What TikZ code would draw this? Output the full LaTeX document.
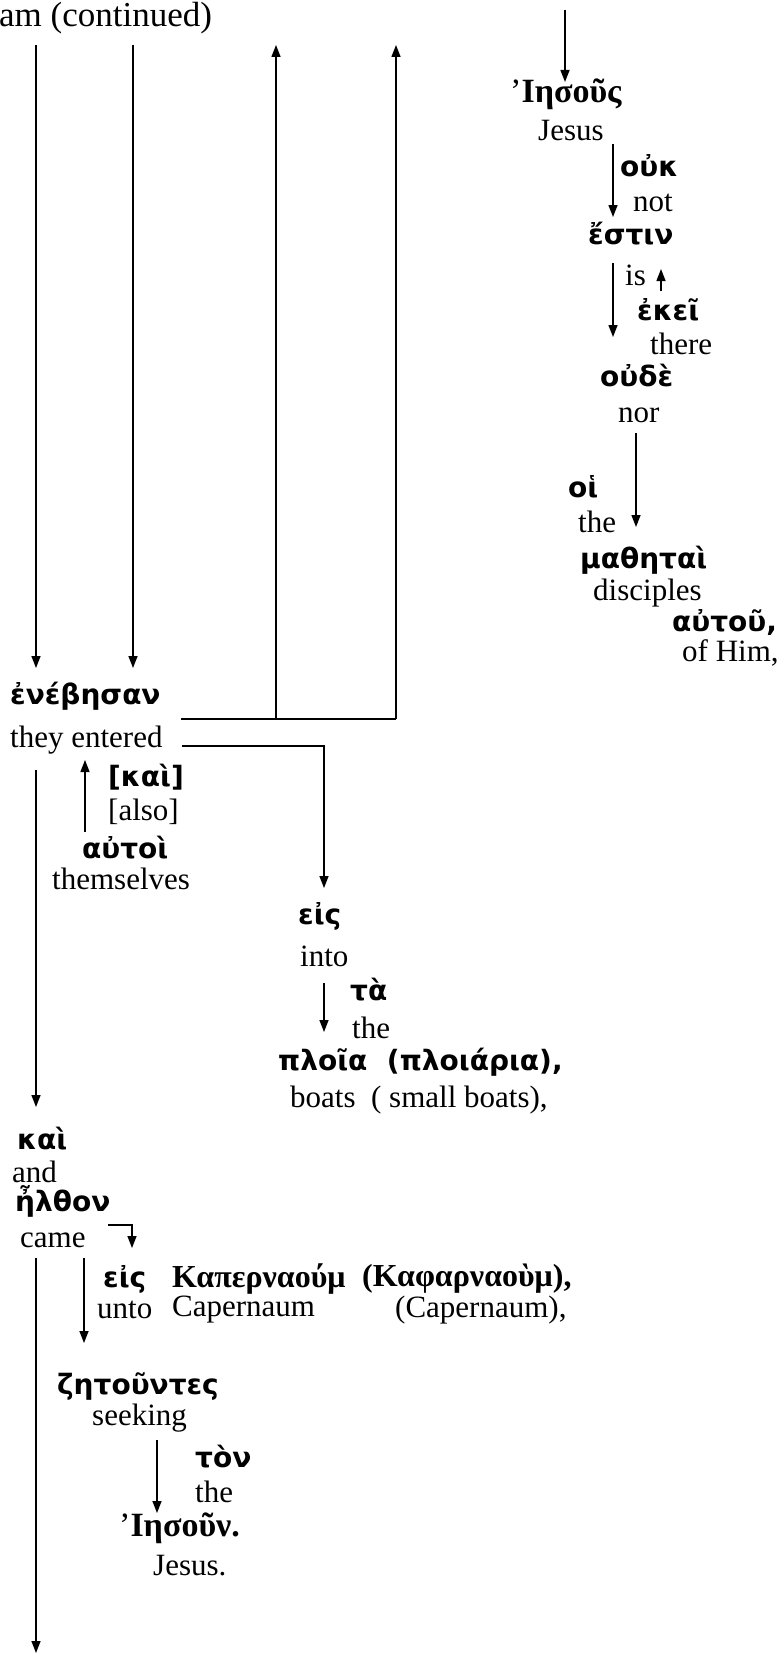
\documentclass[tikz,border=0pt]{standalone}
\usepackage{fontspec}
\setmainfont{Liberation Serif}
\newfontfamily\grk{DejaVu Sans}
\usetikzlibrary{arrows.meta}
\begin{document}
\begin{tikzpicture}[x=1pt,y=-1pt,
  en/.style={font=\fontsize{31}{36}\selectfont, anchor=west, inner sep=0pt},
  gr/.style={font=\fontsize{28}{32}\selectfont\grk\bfseries, anchor=west, inner sep=0pt},
  gs/.style={font=\fontsize{32}{36}\selectfont\bfseries, anchor=west, inner sep=0pt},
  gi/.style={font=\fontsize{34}{38}\selectfont\bfseries, anchor=west, inner sep=0pt},
  conn/.style={line width=1.4pt},
  arr/.style={conn, -{Triangle[length=12pt,width=9pt]}}]
\useasboundingbox (0,0) rectangle (783,1654);
% title
\node[en, font=\fontsize{35}{40}\selectfont] (title) at (-1,18) {am (continued)};
% right column
\node[gi] (ies1) at (510,94) {\mdseries’\bfseries Ιησοῦς};
\node[en] (jesus1) at (538,131) {Jesus};
\node[gr] (ouk) at (620,166) {οὐκ};
\node[en] (not) at (633,203) {not};
\node[gr] (estin) at (588,234) {ἔστιν};
\node[en] (is) at (625,275) {is};
\node[gr] (ekei) at (637,310) {ἐκεῖ};
\node[en] (there) at (650,344) {there};
\node[gr] (oude) at (600,375) {οὐδὲ};
\node[en] (nor) at (618,415) {nor};
\node[gr] (hoi) at (568,487) {οἱ};
\node[en] (the1) at (578,522) {the};
\node[gr] (math) at (580,560) {μαθηταὶ};
\node[en] (disc) at (593,593) {disciples};
\node[gr] (autou) at (672,622) {αὐτοῦ,};
\node[en] (ofhim) at (682,653) {of Him,};
\coordinate (a1s) at (565,10);
\coordinate (a1e) at (565,82);
\draw[arr] (a1s) -- (a1e);
\coordinate (a2s) at (613,144);
\coordinate (a2e) at (613,217);
\draw[arr] (a2s) -- (a2e);
\coordinate (a3s) at (613,263);
\coordinate (a3e) at (613,337);
\draw[arr] (a3s) -- (a3e);
\coordinate (a4s) at (661,291);
\coordinate (a4e) at (661,269);
\draw[arr] (a4s) -- (a4e);
\coordinate (a5s) at (636,433);
\coordinate (a5e) at (636,527);
\draw[arr] (a5s) -- (a5e);
% left part
\coordinate (l1s) at (36,45);
\coordinate (l1e) at (36,668);
\draw[arr] (l1s) -- (l1e);
\coordinate (l2s) at (133,45);
\coordinate (l2e) at (133,668);
\draw[arr] (l2s) -- (l2e);
\coordinate (h1a) at (181,719);
\coordinate (h1b) at (276,719);
\coordinate (h1c) at (396,719);
\coordinate (u1e) at (276,45);
\coordinate (u2e) at (396,45);
\draw[conn] (h1a) -- (h1c);
\draw[arr] (h1b) -- (u1e);
\draw[arr] (h1c) -- (u2e);
\node[gr] (eneb) at (10,696) {ἐνέβησαν};
\node[en] (entered) at (10,740) {they entered};
\coordinate (h2a) at (182,746);
\coordinate (h2b) at (324,746);
\coordinate (h2c) at (324,888);
\draw[arr] (h2a) -- (h2b) -- (h2c);
\coordinate (u3s) at (85,832);
\coordinate (u3e) at (85,760);
\draw[arr] (u3s) -- (u3e);
\node[gr] (kai1) at (108,777) {[καὶ]};
\node[en] (also) at (108,812) {[also]};
\node[gr] (autoi) at (82,848) {αὐτοὶ};
\node[en] (themselves) at (52,879) {themselves};
\coordinate (l3s) at (36,770);
\coordinate (l3e) at (36,1107);
\draw[arr] (l3s) -- (l3e);
\node[gr] (eis1) at (298,916) {εἰς};
\node[en] (into) at (300,956) {into};
\coordinate (a6s) at (324,983);
\coordinate (a6e) at (324,1032);
\draw[arr] (a6s) -- (a6e);
\node[gr] (ta) at (350,990) {τὰ};
\node[en] (the2) at (352,1028) {the};
\node[gr] (ploia) at (278,1062) {πλοῖα\ \ (πλοιάρια),};
\node[en] (boats) at (290,1100) {boats\ \ ( small boats),};
\node[gr] (kai2) at (17,1139) {καὶ};
\node[en] (and) at (12,1172) {and};
\node[gr] (elthon) at (15,1201) {ἦλθον};
\node[en] (came) at (20,1240) {came};
\coordinate (c1a) at (108,1225);
\coordinate (c1b) at (132,1225);
\coordinate (c1c) at (132,1248);
\draw[arr] (c1a) -- (c1b) -- (c1c);
\node[gr] (eis2) at (103,1279) {εἰς};
\node[gs] (kap1) at (172,1279) {Καπερναούμ};
\node[gs] (kap2) at (362,1279) {(Καφαρναοὺμ),};
\node[en] (unto) at (97,1310) {unto};
\node[en] (cap1) at (172,1310) {Capernaum};
\node[en] (cap2) at (395,1310) {(Capernaum),};
\coordinate (a7s) at (84,1258);
\coordinate (a7e) at (84,1343);
\draw[arr] (a7s) -- (a7e);
\coordinate (l4s) at (36,1258);
\coordinate (l4e) at (36,1653);
\draw[arr] (l4s) -- (l4e);
\node[gr] (zet) at (57,1387) {ζητοῦντες};
\node[en] (seeking) at (92,1418) {seeking};
\coordinate (a8s) at (157,1440);
\coordinate (a8e) at (157,1513);
\draw[arr] (a8s) -- (a8e);
\node[gr] (ton) at (195,1457) {τὸν};
\node[en] (the3) at (195,1492) {the};
\node[gi] (ies2) at (119,1528) {\mdseries’\bfseries Ιησοῦν.};
\node[en] (jesus2) at (153,1566) {Jesus.};
\end{tikzpicture}
\end{document}
